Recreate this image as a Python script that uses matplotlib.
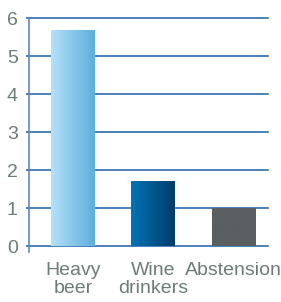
import numpy as np
import matplotlib
matplotlib.use('Agg')
from matplotlib import pyplot as plt
from matplotlib.colors import LinearSegmentedColormap

plt.rcParams['font.family'] = ['Liberation Sans Narrow', 'Liberation Sans', 'DejaVu Sans']

# data
categories = ['Heavy\nbeer', 'Wine\ndrinkers', 'Abstension']
values = [5.7, 1.7, 1.0]
y_ticks = [0, 1, 2, 3, 4, 5, 6]

# bar colours (left, right) for the horizontal gradient
bar_colors = [('#b5e1f8', '#5eaedd'), ('#0073b3', '#003c6c'), ('#5a5f61', '#5a5f61')]

TEXT = '#6d7c79'
GRID = '#2b6cb1'

fig = plt.figure(figsize=(2.81, 3.02), dpi=100)
ax = fig.add_axes([0.103, 0.165, 0.851, 0.775])

x = np.arange(len(categories))
width = 0.545

for yt in y_ticks:
    ax.axhline(yt, color=GRID, lw=1.2, zorder=1, clip_on=False)

grad = np.linspace(0, 1, 100).reshape(1, -1)
for xi, v, (c1, c2) in zip(x, values, bar_colors):
    bar = ax.bar(xi, v, width=width, color='none', edgecolor='none', zorder=2)[0]
    cmap = LinearSegmentedColormap.from_list('g', [c1, c2])
    im = ax.imshow(grad, cmap=cmap, aspect='auto', zorder=2,
                   extent=[xi - width / 2, xi + width / 2, 0, v])
    im.set_clip_path(bar)

ax.set_xlim(-0.55, 2.43)
ax.set_ylim(-0.16, 6.0)

for s in ['top', 'right', 'bottom']:
    ax.spines[s].set_visible(False)
ax.spines['left'].set_color('#5c88c1')
ax.spines['left'].set_linewidth(1.2)

ax.set_yticks(y_ticks)
ax.set_yticklabels([str(t) for t in y_ticks])
ax.set_xticks(x)
ax.set_xticklabels(categories, linespacing=1.1)
ax.tick_params(axis='y', length=2, color=GRID, width=1.2, pad=6,
               labelsize=14, labelcolor=TEXT)
ax.tick_params(axis='x', length=0, pad=7, labelsize=14, labelcolor=TEXT)

plt.savefig('out.png', dpi=100)
